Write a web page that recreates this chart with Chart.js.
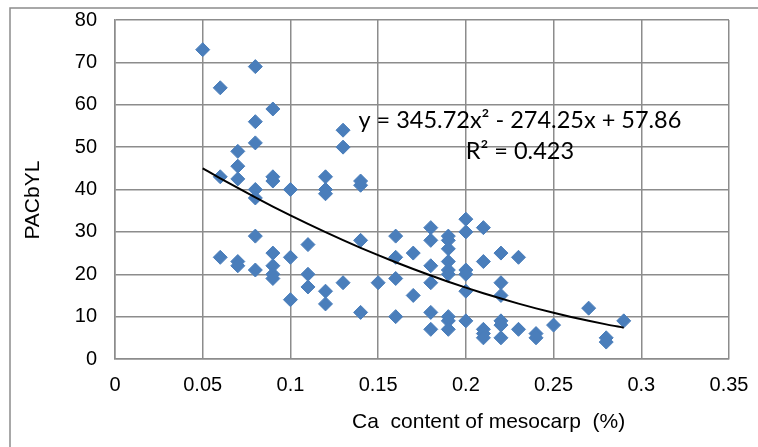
<!DOCTYPE html>
<html>
<head>
<meta charset="utf-8">
<script src="https://cdn.jsdelivr.net/npm/chart.js@4/dist/chart.umd.min.js"></script>
<style>
  html, body { margin: 0; padding: 0; background: #fff; }
  #wrap { width: 758px; height: 447px; }
</style>
</head>
<body>
<div id="wrap"><canvas id="c" width="758" height="447"></canvas></div>
<script>
// Ca content of mesocarp (%) for each observation
const caContent = [
  0.05,
  0.06, 0.06, 0.06,
  0.07, 0.07, 0.07, 0.07, 0.07,
  0.08, 0.08, 0.08, 0.08, 0.08, 0.08, 0.08,
  0.09, 0.09, 0.09, 0.09, 0.09, 0.09, 0.09,
  0.10, 0.10, 0.10,
  0.11, 0.11, 0.11,
  0.12, 0.12, 0.12, 0.12, 0.12,
  0.13, 0.13, 0.13,
  0.14, 0.14, 0.14, 0.14,
  0.15,
  0.16, 0.16, 0.16, 0.16,
  0.17, 0.17,
  0.18, 0.18, 0.18, 0.18, 0.18, 0.18,
  0.19, 0.19, 0.19, 0.19, 0.19, 0.19, 0.19, 0.19, 0.19,
  0.20, 0.20, 0.20, 0.20, 0.20, 0.20,
  0.21, 0.21, 0.21, 0.21, 0.21,
  0.22, 0.22, 0.22, 0.22, 0.22, 0.22,
  0.23, 0.23,
  0.24, 0.24,
  0.25,
  0.27,
  0.28, 0.28,
  0.29
];
// PACbYL for each observation (same order)
const pacbyl = [
  73,
  64, 43, 24,
  49, 45.5, 42.5, 23, 22,
  69, 56, 51, 40, 38, 29, 21,
  59, 43, 42, 25, 22, 20, 19,
  40, 24, 14,
  27, 20, 17,
  43, 40, 39, 16, 13,
  54, 50, 18,
  42, 41, 28, 11,
  18,
  29, 24, 19, 10,
  25, 15,
  31, 28, 22, 18, 11, 7,
  29, 28, 26, 23, 21, 20, 10, 9, 7,
  33, 30, 21, 20, 16, 9,
  31, 23, 7, 6, 5,
  25, 18, 15, 9, 8, 5,
  24, 7,
  6, 5,
  8,
  12,
  5, 4,
  9
];
// Polynomial trend line
const trendX = [0.05, 0.06, 0.07, 0.08, 0.09, 0.10, 0.11, 0.12, 0.13, 0.14, 0.15, 0.16, 0.17,
                0.18, 0.19, 0.20, 0.21, 0.22, 0.23, 0.24, 0.25, 0.26, 0.27, 0.28, 0.29];
const trendY = [45.0, 42.65, 40.36, 38.13, 35.98, 33.89, 31.88, 29.93, 28.05, 26.24, 24.5, 22.83, 21.23,
                19.7, 18.23, 16.84, 15.51, 14.26, 13.07, 11.95, 10.91, 9.93, 9.02, 8.17, 7.4];
const xTicks = [0, 0.05, 0.1, 0.15, 0.2, 0.25, 0.3, 0.35];
const yTicks = [0, 10, 20, 30, 40, 50, 60, 70, 80];
const xTitle = 'Ca  content of mesocarp  (%)';
const yTitle = 'PACbYL';
const eqLine1 = 'y = 345.72x\u00B2 - 274.25x + 57.86';
const eqLine2 = 'R\u00B2 = 0.423';
const eqAnchorX = 0.2308;
const eqAnchorY1 = 56.3;
const eqAnchorY2 = 49.0;
const yTitleAnchor = 37.5;
const xTitleAnchor = 0.213;

const pointData = caContent.map((x, i) => ({ x: x, y: pacbyl[i] }));
const trendData = trendX.map((x, i) => ({ x: x, y: trendY[i] }));

const GRID = '#8c8c8c';
const FONT_FAMILY = '"Liberation Sans", Arial, sans-serif';
const tickFont = { family: FONT_FAMILY, size: 20 };

const framePlugin = {
  id: 'frame',
  beforeDraw(chart) {
    const ctx = chart.ctx;
    ctx.save();
    ctx.fillStyle = '#ffffff';
    ctx.fillRect(0, 0, chart.width, chart.height);
    ctx.strokeStyle = '#8c8c8c';
    ctx.lineWidth = 1.5;
    ctx.beginPath();
    ctx.moveTo(10, chart.height);
    ctx.lineTo(10, 8);
    ctx.lineTo(chart.width, 8);
    ctx.stroke();
    ctx.restore();
  },
  afterDraw(chart) {
    const ctx = chart.ctx;
    const xs = chart.scales.x, ys = chart.scales.y;
    ctx.save();
    ctx.fillStyle = '#000';
    ctx.font = '21px ' + FONT_FAMILY;
    ctx.textAlign = 'center';
    ctx.textBaseline = 'middle';
    // x-axis title
    ctx.fillText(xTitle, xs.getPixelForValue(xTitleAnchor), xs.bottom - 25);
    // y-axis title, rotated
    ctx.translate(33, ys.getPixelForValue(yTitleAnchor));
    ctx.rotate(-Math.PI / 2);
    ctx.fillText(yTitle, 0, 0);
    ctx.restore();
  }
};

const equationPlugin = {
  id: 'equation',
  afterDatasetsDraw(chart) {
    const ctx = chart.ctx;
    const xs = chart.scales.x, ys = chart.scales.y;
    const cx = xs.getPixelForValue(eqAnchorX);
    ctx.save();
    ctx.fillStyle = '#000';
    ctx.textAlign = 'center';
    ctx.textBaseline = 'middle';
    ctx.font = '23.5px Lato, "Open Sans", sans-serif';
    ctx.fillText(eqLine1, cx, ys.getPixelForValue(eqAnchorY1));
    ctx.fillText(eqLine2, cx, ys.getPixelForValue(eqAnchorY2));
    ctx.restore();
  }
};

new Chart(document.getElementById('c'), {
  type: 'scatter',
  data: {
    datasets: [
      {
        label: 'Trend',
        type: 'line',
        data: trendData,
        showLine: true,
        borderColor: '#000000',
        borderWidth: 2,
        pointRadius: 0,
        fill: false,
        cubicInterpolationMode: 'monotone',
        order: 0
      },
      {
        label: 'PACbYL',
        data: pointData,
        pointStyle: 'rectRot',
        pointRadius: 7,
        pointHoverRadius: 7,
        backgroundColor: '#4a7ebb',
        borderColor: '#4a7ebb',
        borderWidth: 1,
        order: 1
      }
    ]
  },
  options: {
    responsive: false,
    animation: false,
    events: [],
    layout: { padding: { left: 0, right: 29, top: 20, bottom: 0 } },
    plugins: {
      legend: { display: false },
      tooltip: { enabled: false }
    },
    scales: {
      x: {
        type: 'linear',
        min: 0, max: 0.35,
        afterBuildTicks(scale) { scale.ticks = xTicks.map(v => ({ value: v })); },
        afterFit(scale) { scale.height = 88; },
        grid: { color: GRID, lineWidth: 1.5, drawTicks: true, tickLength: 14, tickColor: 'rgba(0,0,0,0)' },
        border: { display: true, color: GRID, width: 1.5 },
        ticks: {
          color: '#000',
          font: tickFont,
          padding: 0,
          maxRotation: 0,
          autoSkip: false,
          callback: v => String(+v.toFixed(2))
        },
        title: { display: false }
      },
      y: {
        type: 'linear',
        min: 0, max: 80,
        afterBuildTicks(scale) { scale.ticks = yTicks.map(v => ({ value: v })); },
        afterFit(scale) { scale.width = 115; },
        grid: { color: GRID, lineWidth: 1.5, drawTicks: true, tickLength: 18, tickColor: 'rgba(0,0,0,0)' },
        border: { display: true, color: GRID, width: 1.5 },
        ticks: {
          color: '#000',
          font: tickFont,
          padding: 0,
          autoSkip: false
        },
        title: { display: false }
      }
    }
  },
  plugins: [framePlugin, equationPlugin]
});
</script>
</body>
</html>
